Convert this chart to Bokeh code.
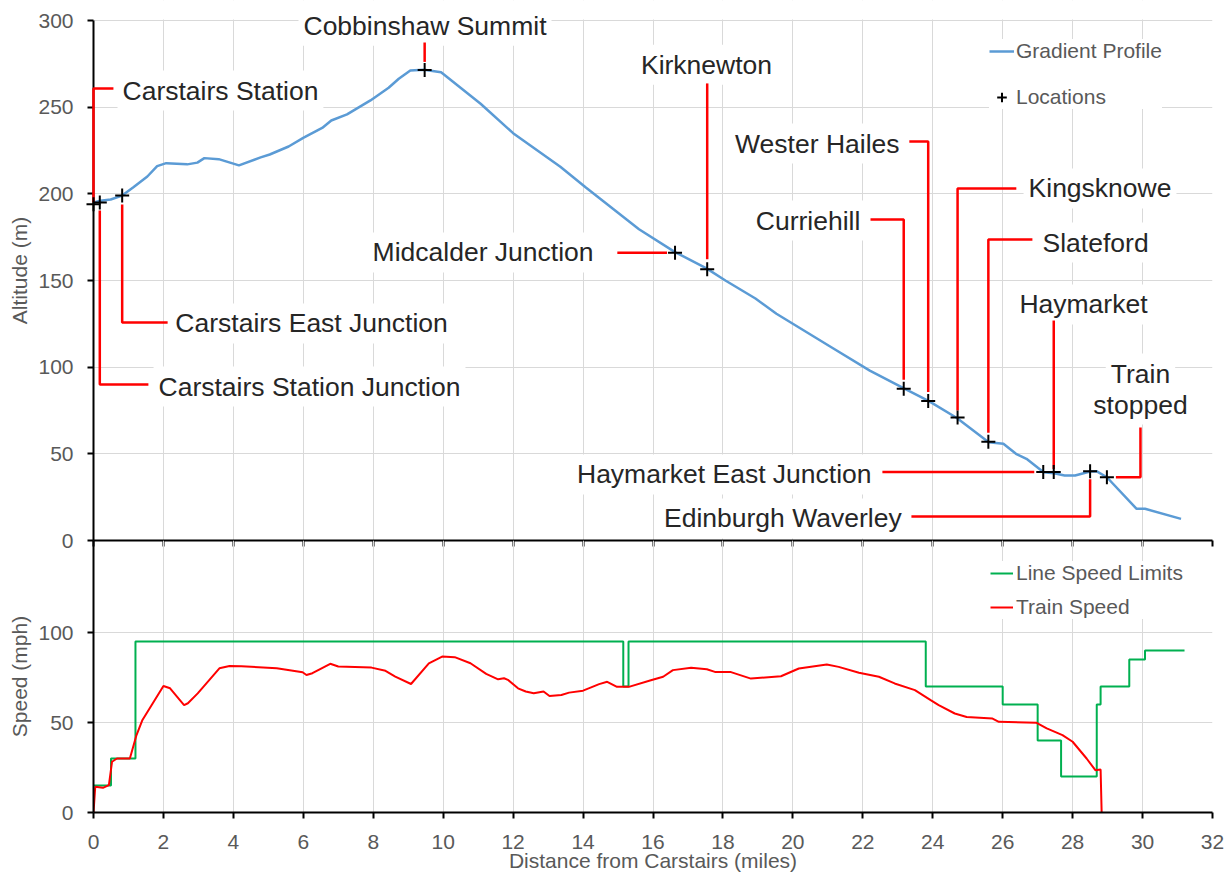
from bokeh.plotting import figure
from bokeh.models import Range1d, FixedTicker, Label, Legend, LegendItem, BoxAnnotation
from bokeh.layouts import column
from bokeh.embed import file_html
from bokeh.resources import INLINE

FONT = "Liberation Sans"
TICK_COLOR = "#595959"
GRID_COLOR = "#d9d9d9"

# ---------------- data ----------------
# Gradient profile (distance in miles, altitude in m)
profile_miles = [0.0, 0.2, 0.49, 0.82, 1.15, 1.54, 1.82, 2.08, 2.68, 2.97, 3.17, 3.58, 4.16, 4.78,
                 5.04, 5.58, 6.01, 6.54, 6.80, 7.25, 7.92, 8.44, 8.73, 9.06, 9.45, 9.94, 11.07,
                 12.0, 13.35, 14.08, 15.6, 16.63, 17.53, 18.07, 18.93, 19.53, 21.1, 22.2, 23.15,
                 23.89, 24.68, 25.6, 26.02, 26.38, 26.68, 27.17, 27.47, 27.77, 28.07, 28.5, 28.68,
                 28.98, 29.83, 30.07, 31.1]
profile_alt = [195, 196, 196.7, 199, 203.9, 210, 216, 217.7, 217, 218, 220.6, 220, 216.4, 221,
               222.7, 227.3, 232.4, 238, 242.3, 245.8, 253.9, 261.2, 266.4, 271.2, 271.6, 270.2, 252,
               235, 215.6, 203.6, 179.6, 166.4, 157, 150, 139.6, 130.8, 111.5, 98, 88,
               80.4, 70.8, 56.7, 55.8, 50, 47.1, 39.4, 38.8, 37.5, 37.5, 39.8, 40,
               36.5, 18.3, 18.3, 12.5]

# Locations
loc_names = ["Carstairs Station", "Carstairs Station Junction", "Carstairs East Junction",
             "Cobbinshaw Summit", "Midcalder Junction", "Kirknewton", "Curriehill",
             "Wester Hailes", "Kingsknowe", "Slateford", "Haymarket East Junction",
             "Haymarket", "Edinburgh Waverley", "Train stopped"]
loc_miles = [0.0, 0.18, 0.82, 9.47, 16.63, 17.55, 23.17, 23.87, 24.71, 25.59, 27.16, 27.46, 28.5, 28.98]
loc_alt = [194, 195, 199, 271.5, 166, 156.5, 87.5, 80.5, 71, 57, 39.5, 39.5, 40, 36.5]

# Line speed limits (step, value holds from each distance onward)
limit_miles = [0.0, 0.5, 1.2, 15.15, 15.3, 23.8, 26.0, 27.0, 27.67, 28.69, 28.8, 29.62, 30.07, 31.2]
limit_mph = [15, 30, 95, 70, 95, 70, 60, 40, 20, 60, 70, 85, 90, 90]

# Train speed
speed_miles = [0.0, 0.05, 0.27, 0.44, 0.53, 0.67, 1.04, 1.23, 1.40, 2.0, 2.19, 2.59, 2.70, 2.98,
               3.60, 3.89, 4.23, 5.24, 5.98, 6.09, 6.26, 6.77, 7.0, 7.95, 8.35, 8.63, 9.08, 9.59,
               9.97, 10.33, 10.78, 11.23, 11.57, 11.74, 11.85, 12.14, 12.36, 12.59, 12.87, 13.04,
               13.38, 13.6, 14.0, 14.46, 14.69, 14.97, 15.31, 15.94, 16.29, 16.57, 17.09, 17.54,
               17.77, 18.23, 18.8, 19.66, 20.17, 20.97, 21.31, 21.89, 22.46, 22.91, 23.49, 23.94,
               24.17, 24.63, 24.97, 25.71, 25.89, 26.97, 27.26, 27.71, 28.0, 28.4, 28.65, 28.8, 28.83]
speed_mph = [0, 14.3, 13.7, 15.2, 28.2, 30, 30, 43, 51.4, 70.3, 69, 59.7, 60.7, 66.2,
             80.1, 81.4, 81.3, 80.1, 77.9, 76.4, 77.4, 82.6, 81.1, 80.5, 78.7, 75.5, 71.4, 82.9,
             86.6, 86.3, 82.9, 77, 74, 74.6, 73.7, 69, 67.2, 66.2, 67.2, 64.7,
             65.3, 66.6, 67.7, 71.3, 72.6, 69.8, 69.8, 73.5, 75.4, 79.1, 80.4, 79.6,
             78.1, 78, 74.4, 75.7, 80, 82.2, 80.9, 77.6, 75.4, 71.7, 68, 62.4,
             59.6, 55, 53.1, 52.2, 50.4, 49.8, 46.7, 43, 39.3, 30, 23.5, 23.9, 0]

x_ticks = list(range(0, 33, 2))
alt_ticks = [0, 50, 100, 150, 200, 250, 300]
speed_ticks = [0, 50, 100]

# ---------------- annotation layout (label anchor, alignment, leader path) ----------------
label_layout = {
    "Carstairs Station": (["Carstairs Station"], 0.83, 259.6, "left"),
    "Carstairs Station Junction": (["Carstairs Station Junction"], 1.86, 88.8, "left"),
    "Carstairs East Junction": (["Carstairs East Junction"], 2.34, 125.2, "left"),
    "Cobbinshaw Summit": (["Cobbinshaw Summit"], 9.48, 297.0, "center"),
    "Midcalder Junction": (["Midcalder Junction"], 14.30, 166.2, "right"),
    "Kirknewton": (["Kirknewton"], 17.53, 274.5, "center"),
    "Curriehill": (["Curriehill"], 21.93, 184.6, "right"),
    "Wester Hailes": (["Wester Hailes"], 23.05, 229.0, "right"),
    "Kingsknowe": (["Kingsknowe"], 26.74, 203.1, "left"),
    "Slateford": (["Slateford"], 27.14, 171.9, "left"),
    "Haymarket East Junction": (["Haymarket East Junction"], 22.25, 38.1, "right"),
    "Haymarket": (["Haymarket"], 28.31, 136.2, "center"),
    "Edinburgh Waverley": (["Edinburgh Waverley"], 23.11, 12.7, "right"),
    "Train stopped": (["Train", "stopped"], 29.94, 96.3, "center"),
}
# leader: (kind, first target, second target, gap in px)
#  kind "v": vertical to y=first, then horizontal to x=second
#  kind "h": horizontal to x=first, then vertical to y=second
leader_layout = {
    "Carstairs Station": ("v", 260.8, 0.57, 2),
    "Carstairs Station Junction": ("v", 90.0, 1.57, 8),
    "Carstairs East Junction": ("v", 125.8, 2.12, 9),
    "Cobbinshaw Summit": ("v", 287.3, None, 8),
    "Midcalder Junction": ("h", 14.98, None, 8),
    "Kirknewton": ("v", 263.7, None, 10),
    "Curriehill": ("v", 185.2, 22.22, 9),
    "Wester Hailes": ("v", 230.2, 23.33, 9),
    "Kingsknowe": ("v", 203.1, 26.39, 7),
    "Slateford": ("v", 173.7, 26.85, 9),
    "Haymarket East Junction": ("h", 22.56, None, 9),
    "Haymarket": ("v", 126.9, None, 3),
    "Edinburgh Waverley": ("v", 13.8, 23.39, 8),
    "Train stopped": ("h", 29.94, 65.2, 9),
}

# ---------------- figures ----------------
FRAME_W = 1119
TOP_PLOT_H = 520          # pixels used by altitude 0..300
TOP_EXTRA = 20            # extra frame room above 300 for the summit label
TOP_H = TOP_PLOT_H + TOP_EXTRA
BOT_H = 272
GAP = 12
LABEL_PAD = 5
PX_PER_MILE = FRAME_W / 32.0
PX_PER_M = TOP_PLOT_H / 300.0
PX_PER_MPH = 1.8

x_range = Range1d(0, 32)


def style_axes(p):
    for ax in p.axis:
        ax.axis_line_color = "black"
        ax.axis_line_width = 2
        ax.major_tick_line_color = "black"
        ax.major_tick_line_width = 2
        ax.major_tick_out = 6
        ax.major_tick_in = 0
        ax.minor_tick_line_color = None
        ax.major_label_text_font = FONT
        ax.major_label_text_font_size = "21px"
        ax.major_label_text_color = TICK_COLOR
        ax.axis_label_text_font = FONT
        ax.axis_label_text_font_size = "21px"
        ax.axis_label_text_font_style = "normal"
        ax.axis_label_text_color = TICK_COLOR
    p.xgrid.grid_line_color = GRID_COLOR
    p.ygrid.grid_line_color = GRID_COLOR
    p.xgrid.ticker = FixedTicker(ticks=x_ticks)
    p.xaxis.ticker = FixedTicker(ticks=x_ticks)
    p.outline_line_color = None
    p.background_fill_alpha = 0
    p.border_fill_alpha = 0


p1 = figure(frame_width=FRAME_W, frame_height=TOP_H, x_range=x_range,
            y_range=Range1d(0, TOP_H / PX_PER_M),
            output_backend="svg", toolbar_location=None,
            min_border_left=93, min_border_right=15, min_border_top=0, min_border_bottom=GAP)
style_axes(p1)
p1.yaxis.ticker = FixedTicker(ticks=alt_ticks)
p1.yaxis.bounds = (0, 300)
p1.ygrid.ticker = FixedTicker(ticks=alt_ticks)
p1.yaxis.axis_label = "Altitude (m)"
p1.yaxis.major_label_standoff = 14
p1.yaxis.axis_label_standoff = 4
p1.xaxis.major_label_text_font_size = "0px"
p1.xaxis.major_label_text_color = None
p1.xaxis.major_label_standoff = 0

# white band above the 300 m line (keeps the vertical grid inside the plot area)
p1.add_layout(BoxAnnotation(bottom=300 + 1.0 / PX_PER_M, fill_color="white", fill_alpha=1,
                            line_color=None, level="underlay"))

r_prof = p1.line(profile_miles, profile_alt, line_color="#5B9BD5", line_width=2.5)

# leader lines
xs, ys = [], []
for name, mx, alt in zip(loc_names, loc_miles, loc_alt):
    kind, a, b, gap = leader_layout[name]
    if kind == "v":
        sgn = 1 if a > alt else -1
        px = [mx, mx]
        py = [alt + sgn * gap / PX_PER_M, a]
        if b is not None:
            px.append(b)
            py.append(a)
    else:
        sgn = 1 if a > mx else -1
        px = [mx + sgn * gap / PX_PER_MILE, a]
        py = [alt, alt]
        if b is not None:
            px.append(a)
            py.append(b)
    xs.append(px)
    ys.append(py)
p1.multi_line(xs, ys, line_color="#FF0000", line_width=2.5, level="overlay")

r_loc = p1.scatter(loc_miles, loc_alt, marker="cross", size=14, line_color="black",
                   line_width=2, level="overlay")

for name in loc_names:
    lines, lx, ly, align = label_layout[name]
    shift = {"left": -1, "right": 1, "center": 0}[align] * LABEL_PAD / PX_PER_MILE
    for i, t in enumerate(lines):
        yy = ly - i * (31 / PX_PER_M)
        p1.add_layout(Label(x=lx + shift, y=yy, text=t, text_align=align, text_baseline="middle",
                            text_font=FONT, text_font_size="26.5px", text_color="#262626",
                            background_fill_color="white", padding=LABEL_PAD))

leg1 = Legend(items=[LegendItem(label="Gradient Profile", renderers=[r_prof]),
                     LegendItem(label="Locations", renderers=[r_loc])],
              location=(896, TOP_PLOT_H - 89), padding=18, spacing=22, glyph_width=25,
              glyph_height=24, label_height=24, label_standoff=2,
              label_text_font=FONT, label_text_font_size="21px", label_text_color=TICK_COLOR,
              border_line_color=None, background_fill_color="white", background_fill_alpha=1)
p1.add_layout(leg1)

p2 = figure(frame_width=FRAME_W, frame_height=BOT_H, x_range=x_range,
            y_range=Range1d(0, BOT_H / PX_PER_MPH),
            output_backend="svg", toolbar_location=None,
            min_border_left=93, min_border_right=15, min_border_top=0, min_border_bottom=0)
p2.margin = (-GAP, 0, 0, 0)
style_axes(p2)
p2.yaxis.ticker = FixedTicker(ticks=speed_ticks)
p2.ygrid.ticker = FixedTicker(ticks=speed_ticks)
p2.yaxis.axis_label = "Speed (mph)"
p2.yaxis.major_label_standoff = 14
p2.yaxis.axis_label_standoff = 4
p2.xaxis.axis_label = "Distance from Carstairs (miles)"
p2.xaxis.major_label_standoff = 16
p2.xaxis.axis_label_standoff = -3

r_lim = p2.step(limit_miles, limit_mph, mode="after", line_color="#00B050", line_width=2)
r_spd = p2.line(speed_miles, speed_mph, line_color="#FF0000", line_width=2)

leg2 = Legend(items=[LegendItem(label="Line Speed Limits", renderers=[r_lim]),
                     LegendItem(label="Train Speed", renderers=[r_spd])],
              location=(897, BOT_H - 79), padding=15, spacing=10, glyph_width=23,
              glyph_height=24, label_height=24, label_standoff=3,
              label_text_font=FONT, label_text_font_size="21px", label_text_color=TICK_COLOR,
              border_line_color=None, background_fill_color="white", background_fill_alpha=1)
p2.add_layout(leg2)

layout = column(p1, p2, spacing=0)
open("out.html", "w").write(file_html(layout, INLINE, title="Gradient and speed profile"))
